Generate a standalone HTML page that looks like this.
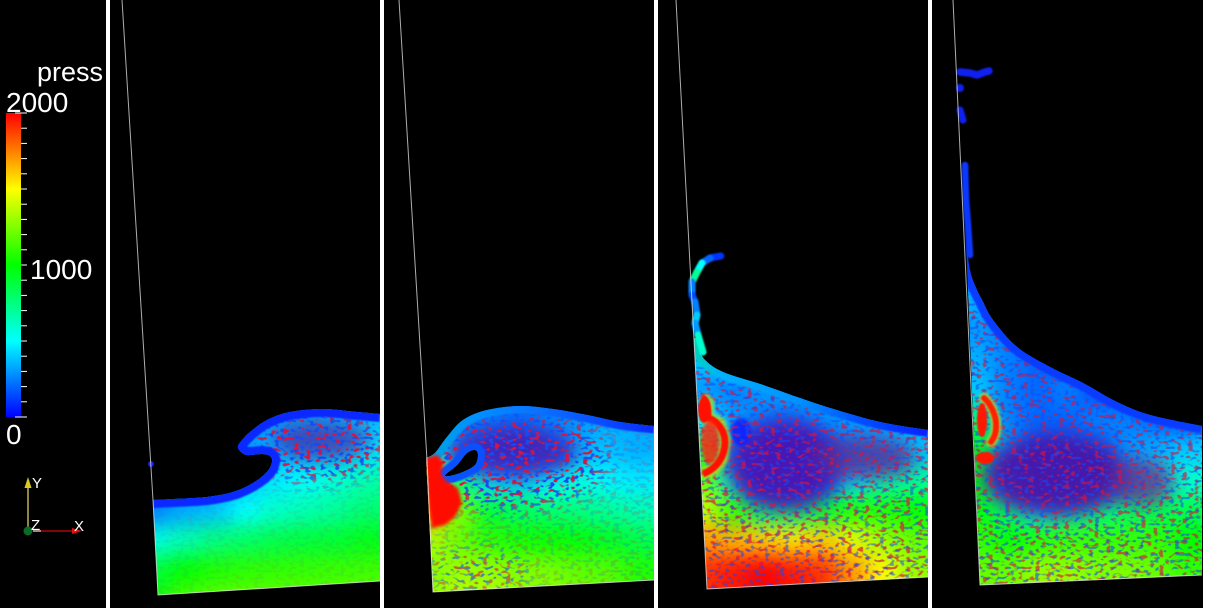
<!DOCTYPE html>
<html lang="en">
<head>
<meta charset="utf-8">
<title>press wave panels</title>
<style>
html,body{margin:0;padding:0;background:#fff;width:1205px;height:608px;overflow:hidden}
svg{display:block}
text{font-family:"Liberation Sans",sans-serif;fill:#fff}
</style>
</head>
<body>
<svg id="root" xmlns="http://www.w3.org/2000/svg" width="1205" height="608" viewBox="0 0 1205 608">
<defs>
<filter id="blur-field" filterUnits="userSpaceOnUse" x="0" y="200" width="1205" height="408" color-interpolation-filters="sRGB"><feGaussianBlur stdDeviation="10"/></filter>
<filter id="blur-blob" filterUnits="userSpaceOnUse" x="0" y="200" width="1205" height="408" color-interpolation-filters="sRGB"><feGaussianBlur stdDeviation="9"/></filter>
<filter id="blur-soft" filterUnits="userSpaceOnUse" x="0" y="0" width="1205" height="608" color-interpolation-filters="sRGB"><feGaussianBlur stdDeviation="0.8"/></filter>
<filter id="blur-mid" filterUnits="userSpaceOnUse" x="0" y="0" width="1205" height="608" color-interpolation-filters="sRGB"><feGaussianBlur stdDeviation="1.6"/></filter>
<filter id="speckle-red" filterUnits="userSpaceOnUse" x="100" y="250" width="1105" height="358" color-interpolation-filters="sRGB">
  <feTurbulence type="fractalNoise" baseFrequency="0.17 0.27" numOctaves="1" seed="4"/>
  <feColorMatrix type="matrix" values="0 0 0 0 .85  0 0 0 0 .08  0 0 0 0 .25  9 0 0 0 -5"/>
</filter>
<filter id="speckle-blue" filterUnits="userSpaceOnUse" x="100" y="250" width="1105" height="358" color-interpolation-filters="sRGB">
  <feTurbulence type="fractalNoise" baseFrequency="0.2 0.3" numOctaves="1" seed="11"/>
  <feColorMatrix type="matrix" values="0 0 0 0 .08  0 0 0 0 .3  0 0 0 0 .95  9 0 0 0 -5"/>
</filter>
<linearGradient id="colorbar-gradient" x1="0" y1="0" x2="0" y2="1">
  <stop offset="0" stop-color="#ff0000"/><stop offset=".25" stop-color="#ffff00"/><stop offset=".5" stop-color="#00ff00"/><stop offset=".75" stop-color="#00ffff"/><stop offset="1" stop-color="#0000ff"/>
</linearGradient>
<linearGradient id="band-2" gradientUnits="userSpaceOnUse" x1="430" y1="0" x2="653" y2="0">
  <stop offset="0" stop-color="#00a0e0"/><stop offset=".2" stop-color="#0090ff"/><stop offset=".5" stop-color="#0a70ff"/><stop offset="1" stop-color="#0a2cff"/>
</linearGradient>
<linearGradient id="band-3" gradientUnits="userSpaceOnUse" x1="695" y1="0" x2="928" y2="0">
  <stop offset="0" stop-color="#00d0c0"/><stop offset=".12" stop-color="#00b0ff"/><stop offset=".45" stop-color="#0090ff"/><stop offset=".7" stop-color="#0050ff"/><stop offset="1" stop-color="#0a20ff"/>
</linearGradient>
<clipPath id="clip-1"><path id="clip-path-1"/></clipPath>
<clipPath id="clip-2"><path id="clip-path-2" clip-rule="evenodd"/></clipPath>
<clipPath id="clip-3"><path id="clip-path-3"/></clipPath>
<clipPath id="clip-4"><path id="clip-path-4"/></clipPath>
<mask id="mask-1" maskUnits="userSpaceOnUse" x="100" y="250" width="1105" height="358">
  <rect x="100" y="250" width="1105" height="358" fill="#141414"/>
  <ellipse cx="315" cy="445" rx="70" ry="38" fill="#fff" filter="url(#blur-blob)"/>
</mask>
<mask id="mask-2" maskUnits="userSpaceOnUse" x="100" y="250" width="1105" height="358">
  <rect x="100" y="250" width="1105" height="358" fill="#333"/>
  <ellipse cx="510" cy="460" rx="100" ry="50" fill="#fff" filter="url(#blur-blob)"/>
  <ellipse cx="480" cy="570" rx="50" ry="22" fill="#aaa" filter="url(#blur-blob)"/>
</mask>
</defs>

<rect x="0" y="0" width="1203" height="608" fill="#000"/>

<g id="panel-1">
  <g clip-path="url(#clip-1)">
    <g id="field-base-1"></g>
    <g id="field-1" filter="url(#blur-field)"></g>
    <ellipse cx="322" cy="440" rx="50" ry="20" fill="#5020a0" opacity=".7" filter="url(#blur-blob)"/>
    <g mask="url(#mask-1)"><rect x="110" y="400" width="270" height="200" filter="url(#speckle-red)"/><rect x="110" y="400" width="270" height="200" filter="url(#speckle-blue)"/></g>
    <path id="band-path-1" fill="none" stroke="#0a28ff" stroke-width="16" stroke-linejoin="round" filter="url(#blur-soft)"/>
  </g>
  <circle cx="151" cy="464" r="3" fill="#1a20e0"/>
  <polyline points="122,0 153,500 158,595 380,581" fill="none" stroke="#e8e8e8" stroke-width="1" opacity=".75"/>
</g>

<g id="panel-2">
  <g clip-path="url(#clip-2)">
    <g id="field-base-2"></g>
    <g id="field-2" filter="url(#blur-field)"></g>
    <ellipse cx="512" cy="452" rx="65" ry="26" fill="#4a1ab0" opacity=".85" filter="url(#blur-blob)"/>
    <g mask="url(#mask-2)"><rect x="384" y="400" width="270" height="200" filter="url(#speckle-red)"/><rect x="384" y="400" width="270" height="200" filter="url(#speckle-blue)"/></g>
    <path id="band-path-2" fill="none" stroke="url(#band-2)" stroke-width="15" stroke-linejoin="round" filter="url(#blur-soft)"/>
    <path id="rim-path-2" fill="none" stroke="#0a50ff" stroke-width="14" stroke-linejoin="round" filter="url(#blur-soft)"/>
    <path d="M425 458 L437 455 444 462 441 474 446 481 458 488 462 503 455 517 445 525 432 528 428 500Z" fill="#ff0c00" filter="url(#blur-mid)"/>
  </g>
  <polyline points="399,0 427,460 433,592 654,580" fill="none" stroke="#e8e8e8" stroke-width="1" opacity=".75"/>
</g>

<g id="panel-3">
  <g clip-path="url(#clip-3)">
    <g id="field-base-3"></g>
    <g id="field-3" filter="url(#blur-field)"></g>
    <ellipse cx="785" cy="465" rx="58" ry="46" fill="#4a14b4" opacity=".95" filter="url(#blur-blob)"/>
    <ellipse cx="865" cy="458" rx="52" ry="22" fill="#602a90" opacity=".8" filter="url(#blur-blob)"/>
    <ellipse cx="741" cy="432" rx="10" ry="14" fill="#1020ff" opacity=".9" filter="url(#blur-mid)"/>
    <rect x="658" y="340" width="270" height="260" filter="url(#speckle-red)" opacity=".7"/>
    <rect x="658" y="340" width="270" height="260" filter="url(#speckle-blue)" opacity=".55"/>
    <path id="band-path-3" fill="none" stroke="url(#band-3)" stroke-width="14" stroke-linejoin="round" filter="url(#blur-soft)"/>
    <path d="M702 398 L708 402 708 418 720 423 725 440 722 460 713 470 703 474" fill="none" stroke="#b0e020" stroke-width="12" stroke-linejoin="round" opacity=".8" filter="url(#blur-mid)"/>
    <path d="M702 398 C708 400 708 410 708 418 C716 420 725 430 725 442 C725 455 718 468 703 474" fill="none" stroke="#ff1000" stroke-width="7" stroke-linejoin="round" filter="url(#blur-soft)"/>
    <ellipse cx="704" cy="410" rx="6" ry="13" fill="#ff1000" filter="url(#blur-soft)"/>
    <ellipse cx="710" cy="442" rx="9" ry="22" fill="#ff2a10" opacity=".85" filter="url(#blur-mid)"/>
  </g>
  <g id="jet-group-3" filter="url(#blur-soft)"></g>
  <polyline points="676,0 694,340 707,589 928,577" fill="none" stroke="#e8e8e8" stroke-width="1" opacity=".75"/>
</g>

<g id="panel-4">
  <g clip-path="url(#clip-4)">
    <g id="field-base-4"></g>
    <g id="field-4" filter="url(#blur-field)"></g>
    <ellipse cx="1055" cy="475" rx="72" ry="42" fill="#4a14a8" opacity=".95" filter="url(#blur-blob)"/>
    <ellipse cx="1140" cy="482" rx="34" ry="24" fill="#702080" opacity=".75" filter="url(#blur-blob)"/>
    <rect x="932" y="240" width="270" height="360" filter="url(#speckle-red)" opacity=".65"/>
    <rect x="932" y="240" width="270" height="360" filter="url(#speckle-blue)" opacity=".6"/>
    <path id="band-path-4" fill="none" stroke="#0a3cff" stroke-width="15" stroke-linejoin="round" filter="url(#blur-soft)"/>
    <path d="M984 398 C992 405 997 418 996 428 C996 434 994 438 991 442" fill="none" stroke="#d0e020" stroke-width="10" stroke-linecap="round" opacity=".8" filter="url(#blur-mid)"/>
    <path d="M984 398 C992 405 997 418 996 428 C996 434 994 438 991 442" fill="none" stroke="#ff2000" stroke-width="6" stroke-linecap="round" filter="url(#blur-soft)"/>
    <ellipse cx="982" cy="420" rx="5" ry="17" fill="#ff1800" filter="url(#blur-soft)"/>
    <ellipse cx="985" cy="458" rx="9" ry="6" fill="#ff1800" filter="url(#blur-soft)"/>
  </g>
  <g id="jet-group-4" filter="url(#blur-soft)">
    <polyline points="960,72 970,73 977,75 985,72 989,71" fill="none" stroke="#1020ee" stroke-width="7.5" stroke-linecap="round" stroke-linejoin="round"/>
    <circle cx="960" cy="88" r="4" fill="#1020ee"/>
    <polyline points="960,110 963,120" fill="none" stroke="#1020ee" stroke-width="7" stroke-linecap="round"/>
    <polyline points="965,165 966,200 968,225 970,255" fill="none" stroke="#0a38ff" stroke-width="6.5" stroke-linecap="round" stroke-linejoin="round"/>
  </g>
  <polyline points="953,0 967,300 980,585 1202,575" fill="none" stroke="#e8e8e8" stroke-width="1" opacity=".75"/>
</g>

<rect x="106" y="0" width="4" height="608" fill="#fff"/>
<rect x="380" y="0" width="4" height="608" fill="#fff"/>
<rect x="654" y="0" width="4" height="608" fill="#fff"/>
<rect x="928" y="0" width="4" height="608" fill="#fff"/>

<g id="colorbar">
  <rect x="6" y="113" width="15" height="304" fill="url(#colorbar-gradient)"/>
  <g id="colorbar-ticks"></g>
  <text x="37" y="81" font-size="27" textLength="66" lengthAdjust="spacingAndGlyphs">press</text>
  <text x="6" y="112" font-size="28">2000</text>
  <text x="30" y="279" font-size="28">1000</text>
  <text x="6" y="444" font-size="28">0</text>
</g>

<g id="axes-triad">
  <line x1="28" y1="531" x2="28" y2="486" stroke="#e8e070" stroke-width="1.2"/>
  <polygon points="28,477 24.5,488 31.5,488" fill="#d8c820"/>
  <line x1="33" y1="531" x2="74" y2="531" stroke="#a80808" stroke-width="1.5"/>
  <polygon points="82,531 72,528 72,534" fill="#e01010"/>
  <line x1="33" y1="531" x2="41" y2="531" stroke="#fff" stroke-width="1"/>
  <circle cx="28" cy="531" r="4.5" fill="#0c6a28"/>
  <text x="32" y="488" font-size="15">Y</text>
  <text x="31" y="530" font-size="15">Z</text>
  <text x="74" y="531" font-size="15">X</text>
</g>

<script>
/* Pressure samples (0-2000), rows top to bottom, columns left to right. */
var panel1Press = [
[100,100,100,100,100,100,100,100,100,100,100],
[100,100,100,100,100,100,100,100,100,100,100],
[100,100,100,100,100,100,100,100,100,100,100],
[200,200,200,200,200,200,200,200,200,200,200],
[200,200,200,200,250,300,320,350,380,400,400],
[200,200,200,200,250,300,350,350,400,450,450],
[200,200,200,250,300,380,460,520,580,650,700],
[250,250,260,330,380,500,600,650,700,780,800],
[550,550,560,650,750,800,850,880,900,950,950],
[850,850,880,1000,1060,1080,1090,1100,1110,1120,1120],
[1000,1000,1020,1150,1180,1200,1200,1200,1200,1200,1200]
];
var panel2Press = [
[250,250,250,250,250,250,250,250,250,250,250],
[250,250,250,250,250,250,250,250,250,250,250],
[250,250,250,250,250,250,250,250,250,250,250],
[250,250,250,250,250,250,250,250,250,250,250],
[250,250,250,250,250,220,260,300,340,340,340],
[500,500,500,350,220,180,260,350,380,340,340],
[1500,1500,1500,800,450,400,500,560,480,460,460],
[1700,1700,1700,1250,900,820,780,750,700,650,650],
[1350,1350,1350,1200,1080,1030,1020,980,940,860,860],
[1250,1250,1250,1300,1300,1250,1230,1180,1160,1060,1060],
[1300,1300,1300,1350,1350,1300,1280,1220,1200,1100,1100]
];
var panel3Press = [
[400,400,400,400,400,400,400,400,400,400,400],
[400,400,400,400,400,400,400,400,400,400,400],
[400,400,400,400,400,400,400,400,400,400,400],
[300,300,300,250,300,300,300,300,300,300,300],
[500,500,500,300,250,250,280,300,320,330,330],
[900,900,900,300,200,200,250,300,350,380,380],
[1200,1200,1200,600,250,250,300,450,650,700,700],
[1400,1400,1400,1100,800,800,900,1050,1050,1000,1000],
[1700,1700,1700,1650,1600,1550,1600,1450,1300,1200,1150],
[1900,1900,1900,1950,2000,1950,1900,1700,1500,1300,1250],
[1900,1900,1900,1950,2000,1950,1900,1700,1500,1300,1250]
];
var panel4Press = [
[350,350,350,300,300,250,250,250,250,250,250],
[300,300,300,250,250,220,220,220,220,220,220],
[350,350,350,250,200,200,200,200,200,200,200],
[400,400,400,250,200,250,150,150,150,150,150],
[800,800,800,250,200,200,250,250,200,150,150],
[1000,1000,1000,350,200,200,200,300,350,400,450],
[1000,1000,1000,450,250,250,300,400,550,600,650],
[1000,1000,1000,800,550,650,750,800,850,850,850],
[1100,1100,1100,1000,1050,1100,1100,1100,1100,1000,1000],
[1200,1200,1200,1200,1300,1300,1250,1250,1200,1100,1100],
[1200,1200,1200,1200,1300,1300,1250,1250,1200,1100,1100]
];
var panelPress = [panel1Press, panel2Press, panel3Press, panel4Press];
var panelLefts = [110, 384, 658, 932];
var colorbarTickValues = [2000,1900,1800,1700,1600,1500,1400,1300,1200,1100,1000,900,800,700,600,500,400,300,200,100,0];
/* Press values along the splash jet of panel 3, from tip to wall. */
var jet3Press = [100,200,500,700,250,150,250,400,300,600,700];

var SVGNS = 'http://www.w3.org/2000/svg';
var CELL = 30;
var WIDTH = 1205;
var HEIGHT = 608;
function xCell(panel, col) { return panelLefts[panel] - 15 + CELL * col; }
function yCell(row) { return 300 + CELL * row; }
function pressColor(v) {
  var t = Math.max(0, Math.min(1, v / 2000));
  return 'hsl(' + Math.round(240 * (1 - t)) + ',100%,50%)';
}
function yBar(v) { return 417 - (v / 2000) * 304; }

function smooth(pts, closed) {
  var n = pts.length;
  function at(i) {
    if (closed) return pts[(i + n) % n];
    return pts[Math.max(0, Math.min(n - 1, i))];
  }
  var d = 'M' + pts[0][0] + ' ' + pts[0][1];
  var last = closed ? n : n - 1;
  for (var i = 0; i < last; i++) {
    var p0 = at(i - 1), p1 = at(i), p2 = at(i + 1), p3 = at(i + 2);
    d += ' C' + (p1[0] + (p2[0] - p0[0]) / 6).toFixed(1) + ' ' + (p1[1] + (p2[1] - p0[1]) / 6).toFixed(1) +
         ' ' + (p2[0] - (p3[0] - p1[0]) / 6).toFixed(1) + ' ' + (p2[1] - (p3[1] - p1[1]) / 6).toFixed(1) +
         ' ' + p2[0] + ' ' + p2[1];
  }
  return d + (closed ? 'Z' : '');
}

var surface1 = [[153,500],[173,499],[207,497],[233,492],[253,483],[267,472],[272,462],[270,456],[262,454],[247,455],[240,451],[238,446],[243,439],[250,432],[267,420],[290,412],[323,409],[357,412],[380,414]];
var surface2 = [[426,458],[435,453],[447,437],[463,420],[487,410],[520,406],[553,409],[587,415],[620,422],[654,426]];
var pocket2 = [[445,475],[457,465],[467,453],[475,450],[478,455],[475,465],[463,472],[450,476]];
var surface3 = [[697,338],[700,350],[705,360],[723,372],[763,385],[797,397],[830,408],[880,422],[928,430]];
var surface4 = [[966,240],[970,270],[976,288],[982,300],[993,320],[1017,347],[1050,367],[1083,383],[1117,402],[1150,415],[1202,426]];
var jet3Trace = [[720.7,256],[710,258],[702,263],[697,272],[692,282],[692,295],[695,302],[697,315],[695,323],[698,335],[703,352]];

var d1 = smooth(surface1, false);
var d2 = smooth(surface2, false);
var dp = smooth(pocket2, true);
var d3 = smooth(surface3, false);
var d4 = smooth(surface4, false);
document.getElementById('band-path-1').setAttribute('d', d1);
document.getElementById('band-path-2').setAttribute('d', d2);
document.getElementById('rim-path-2').setAttribute('d', dp);
document.getElementById('band-path-3').setAttribute('d', d3);
document.getElementById('band-path-4').setAttribute('d', d4);
document.getElementById('clip-path-1').setAttribute('d', d1 + ' L380 581 L158 595Z');
document.getElementById('clip-path-2').setAttribute('d', d2 + ' L654 580 L433 592Z ' + dp);
document.getElementById('clip-path-3').setAttribute('d', 'M694 338 L697 338 ' + d3.replace(/^M[^C]*/, '') + ' L928 577 L707 589Z');
document.getElementById('clip-path-4').setAttribute('d', d4 + ' L1202 575 L980 585Z');

function addCells(g, p, r, c, v) {
  var x = xCell(p, c) - CELL / 2;
  var y = yCell(r) - CELL / 2;
  var cell = document.createElementNS(SVGNS, 'rect');
  cell.setAttribute('x', x);
  cell.setAttribute('y', y);
  cell.setAttribute('width', Math.min(CELL + 1, WIDTH - x));
  cell.setAttribute('height', Math.min(CELL + 1, HEIGHT - y));
  cell.setAttribute('fill', pressColor(v));
  
  
  g.appendChild(cell);
}
panelPress.forEach(function (rows, p) {
  var base = document.getElementById('field-base-' + (p + 1));
  var g = document.getElementById('field-' + (p + 1));
  rows.forEach(function (vals, r) {
    vals.forEach(function (v, c) {
      addCells(base, p, r, c, v);
      addCells(g, p, r, c, v);
    });
  });
});

var tickGroup = document.getElementById('colorbar-ticks');
colorbarTickValues.forEach(function (v, i) {
  var long = (i === 0 || i === colorbarTickValues.length - 1);
  var tick = document.createElementNS(SVGNS, 'line');
  tick.setAttribute('x1', long ? 15 : 21);
  tick.setAttribute('x2', 27);
  tick.setAttribute('y1', yBar(v));
  tick.setAttribute('y2', yBar(v));
  tick.setAttribute('stroke', '#fff');
  tick.setAttribute('stroke-width', '1');
  
  
  tickGroup.appendChild(tick);
});

var jetGroup = document.getElementById('jet-group-3');
jet3Press.forEach(function (v, i) {
  if (i >= jet3Trace.length - 1) return;
  var seg = document.createElementNS(SVGNS, 'line');
  seg.setAttribute('x1', jet3Trace[i][0]);
  seg.setAttribute('y1', jet3Trace[i][1]);
  seg.setAttribute('x2', jet3Trace[i + 1][0]);
  seg.setAttribute('y2', jet3Trace[i + 1][1]);
  seg.setAttribute('stroke', pressColor(v));
  seg.setAttribute('stroke-width', '7');
  seg.setAttribute('stroke-linecap', 'round');
  
  
  jetGroup.appendChild(seg);
});
</script>
</svg>
</body>
</html>
